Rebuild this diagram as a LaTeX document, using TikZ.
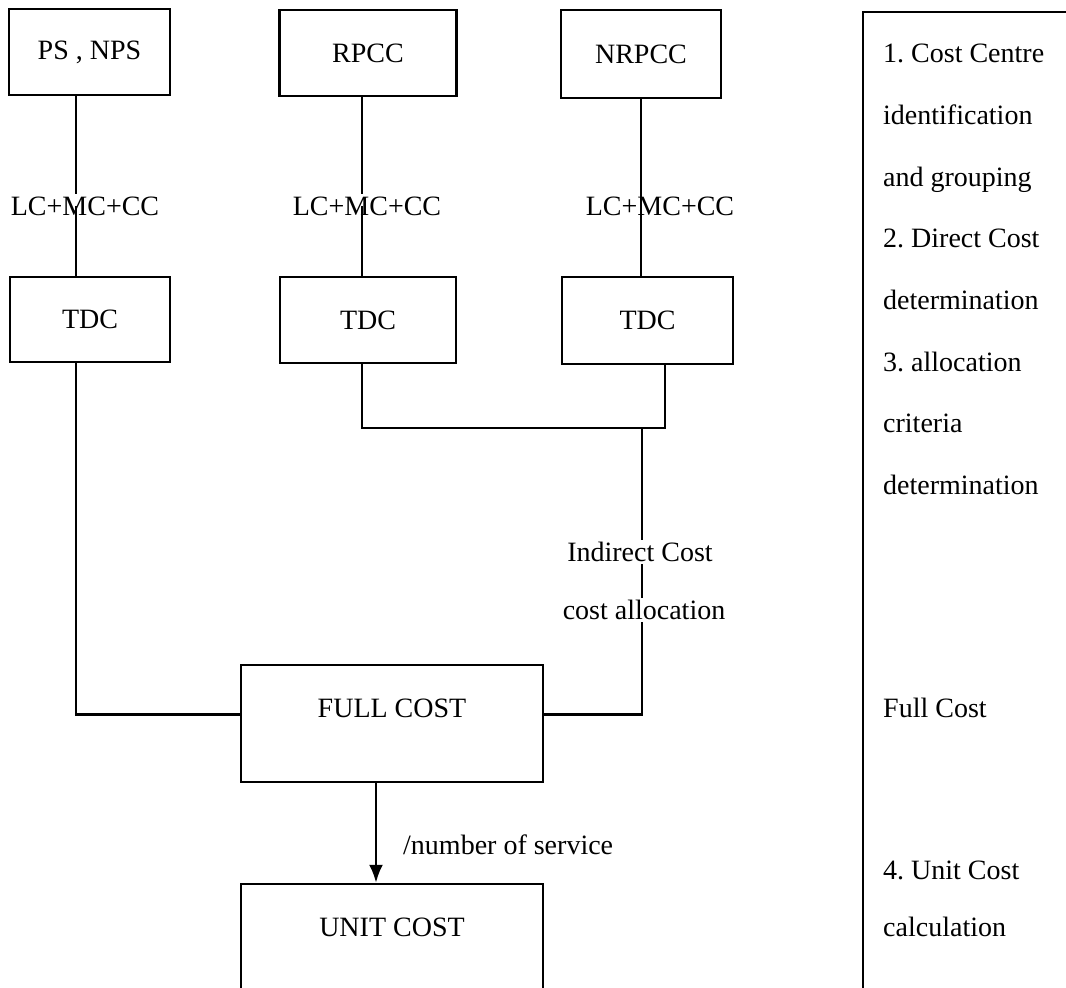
\documentclass[tikz,border=0pt]{standalone}
\usepackage{fontspec}
\setmainfont{Liberation Serif}
\usetikzlibrary{arrows.meta,positioning}
\frenchspacing

\tikzset{
	box/.style={draw, line width=2.4pt, inner sep=0pt, align=center},
	lbl/.style={inner sep=2pt},
	wire/.style={line width=2.6pt},
}

\begin{document}
\begin{tikzpicture}[x=1pt,y=-1pt,font=\fontsize{28}{32}\selectfont]
	\useasboundingbox (0,0) rectangle (1066,988);
	\clip (0,0) rectangle (1066,988);
	\node[box, minimum width=161pt, minimum height=86pt] (0) at (89.5,52) {PS , NPS};
	\node[box, minimum width=177pt, minimum height=86pt] (1) at (368,53) {RPCC};
	\node[box, minimum width=160pt, minimum height=88pt] (2) at (641,54) {NRPCC};
	\node[lbl] (3) at (85,206) {LC+MC+CC};
	\node[lbl] (4) at (367,206) {LC+MC+CC};
	\node[lbl] (5) at (660,206) {LC+MC+CC};
	\node[box, minimum width=160pt, minimum height=85pt] (6) at (90,319.5) {TDC};
	\node[box, minimum width=176pt, minimum height=86pt] (7) at (368,320) {TDC};
	\node[box, minimum width=171pt, minimum height=87pt] (8) at (647.5,320.5) {TDC};
	\node[box, anchor=base, minimum width=302pt, text height=52pt, text depth=65pt] (9) at (392,717) {FULL COST};
	\node[box, anchor=base, minimum width=302pt, text height=52pt, text depth=150pt] (10) at (392,936) {UNIT COST};
	\node[lbl] (11) at (640,552) {Indirect Cost};
	\node[lbl] (12) at (644,610) {cost allocation};
	\node[lbl, anchor=west] (13) at (401,845) {/number of service};
	\node[draw, line width=2.4pt, anchor=north west, minimum width=240pt, minimum height=1010pt] (14) at (862,11) {};
	\node[inner sep=0pt, anchor=base west] (15) at (883,62) {1. Cost Centre};
	\node[inner sep=0pt, anchor=base west] (16) at (883,124) {identification};
	\node[inner sep=0pt, anchor=base west] (17) at (883,186) {and grouping};
	\node[inner sep=0pt, anchor=base west] (18) at (883,247) {2. Direct Cost};
	\node[inner sep=0pt, anchor=base west] (19) at (883,309) {determination};
	\node[inner sep=0pt, anchor=base west] (20) at (883,371) {3. allocation};
	\node[inner sep=0pt, anchor=base west] (21) at (883,432) {criteria};
	\node[inner sep=0pt, anchor=base west] (22) at (883,494) {determination};
	\node[inner sep=0pt, anchor=base west] (23) at (883,717) {Full Cost};
	\node[inner sep=0pt, anchor=base west] (24) at (883,879) {4. Unit Cost};
	\node[inner sep=0pt, anchor=base west] (25) at (883,936) {calculation};
	\coordinate (a) at (76,0);
	\coordinate (b) at (362,0);
	\coordinate (c) at (641,0);
	\coordinate (d) at (665,428);
	\coordinate (e) at (642,428);
	\coordinate (f) at (376,0);
	\draw[wire] (a |- 0.south) -- (a |- 3.north);
	\draw[wire] (a |- 3.center) -- (a |- 6.north);
	\draw[wire] (b |- 1.south) -- (b |- 4.north);
	\draw[wire] (b |- 4.center) -- (b |- 7.north);
	\draw[wire] (c |- 2.south) -- (c |- 8.north);
	\draw[wire] (a |- 6.south) |- (9.mid west);
	\draw[wire] (b |- 7.south) |- (d) -- (d |- 8.south);
	\draw[wire] (e) -- (e |- 11.north);
	\draw[wire] (e |- 11.south) -- (e |- 12.north);
	\draw[wire] (e |- 12.south) |- (9.mid east);
	\draw[wire, -{Latex[length=18pt,width=14pt]}] (f |- 9.south) -- (f |- 10.north);
\end{tikzpicture}
\end{document}
